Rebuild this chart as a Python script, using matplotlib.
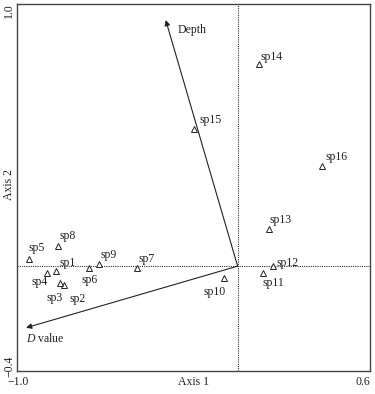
import matplotlib
matplotlib.use('Agg')
import matplotlib.pyplot as plt

plt.rcParams['font.family'] = ['Liberation Serif', 'DejaVu Serif']
plt.rcParams['mathtext.fontset'] = 'custom'
plt.rcParams['mathtext.rm'] = 'Liberation Serif'
plt.rcParams['mathtext.it'] = 'Liberation Serif:italic'

# species scores
species = ['sp1', 'sp2', 'sp3', 'sp4', 'sp5', 'sp6', 'sp7', 'sp8',
           'sp9', 'sp10', 'sp11', 'sp12', 'sp13', 'sp14', 'sp15', 'sp16']
axis1 = [-0.825, -0.786, -0.805, -0.864, -0.947, -0.672, -0.457, -0.816,
         -0.630, -0.063, 0.117, 0.162, 0.141, 0.097, -0.196, 0.383]
axis2 = [-0.020, -0.072, -0.063, -0.025, 0.029, -0.008, -0.008, 0.077,
         0.007, -0.045, -0.025, 0.002, 0.142, 0.770, 0.522, 0.383]

# environmental arrows
env_names = ['Depth', '$D$ value']
env_x = [-0.326, -0.959]
env_y = [0.939, -0.235]

# label offsets in pixels (dx, dy up)
label_off = {
    'sp1': (4, 8), 'sp2': (5, -14), 'sp3': (-14, -15), 'sp4': (-16, -9),
    'sp5': (0, 11), 'sp6': (-8, -12), 'sp7': (2, 9), 'sp8': (2, 10),
    'sp9': (2, 9), 'sp10': (-20, -14), 'sp11': (-1, -10), 'sp12': (3, 3),
    'sp13': (1, 9), 'sp14': (1, 7), 'sp15': (5, 9), 'sp16': (3, 9),
}
env_off = {'Depth': (12, -10), '$D$ value': (0, -11)}

fig = plt.figure(figsize=(3.75, 3.94), dpi=100)
ax = fig.add_axes([17 / 375, 23 / 394, 353 / 375, 367 / 394])
ax.set_xlim(-1.0, 0.6)
ax.set_ylim(-0.4, 1.0)

ax.axhline(0, color='#333333', lw=0.8, ls=(0, (1, 1)))
ax.axvline(0, color='#333333', lw=0.8, ls=(0, (1, 1)))

for name, ex, ey in zip(env_names, env_x, env_y):
    ax.annotate('', xy=(ex, ey), xytext=(0, 0),
                arrowprops=dict(arrowstyle='-|>', lw=0.8, color='#222222',
                                mutation_scale=8, shrinkA=0, shrinkB=0))
    ax.annotate(name, xy=(ex, ey), xytext=env_off[name], textcoords='offset pixels',
                ha='left', va='center', fontsize=8.5, color='#222222')

ax.plot(axis1, axis2, ls='none', marker='^', markersize=4.5, mfc='white',
        mec='#222222', mew=0.7)
for name, x, y in zip(species, axis1, axis2):
    ax.annotate(name, xy=(x, y), xytext=label_off[name], textcoords='offset pixels',
                ha='left', va='center', fontsize=8.5, color='#222222')

ax.set_xticks([])
ax.set_yticks([])
for s in ax.spines.values():
    s.set_color('#444444')
    s.set_linewidth(1.0)

# axis end labels
fig.text(18 / 375, 1 - 382 / 394, '\u22121.0', ha='center', va='center', fontsize=8.5, color='#222222')
fig.text(370 / 375, 1 - 382 / 394, '0.6', ha='right', va='center', fontsize=8.5, color='#222222')
fig.text(193 / 375, 1 - 382 / 394, 'Axis 1', ha='center', va='center', fontsize=8.5, color='#222222')
fig.text(9 / 375, 1 - 11 / 394, '1.0', ha='center', va='center', rotation=90, fontsize=8.5, color='#222222')
fig.text(9 / 375, 1 - 366 / 394, '\u22120.4', ha='center', va='center', rotation=90, fontsize=8.5, color='#222222')
fig.text(9 / 375, 1 - 185 / 394, 'Axis 2', ha='center', va='center', rotation=90, fontsize=8.5, color='#222222')

fig.savefig('out.png', dpi=100)
